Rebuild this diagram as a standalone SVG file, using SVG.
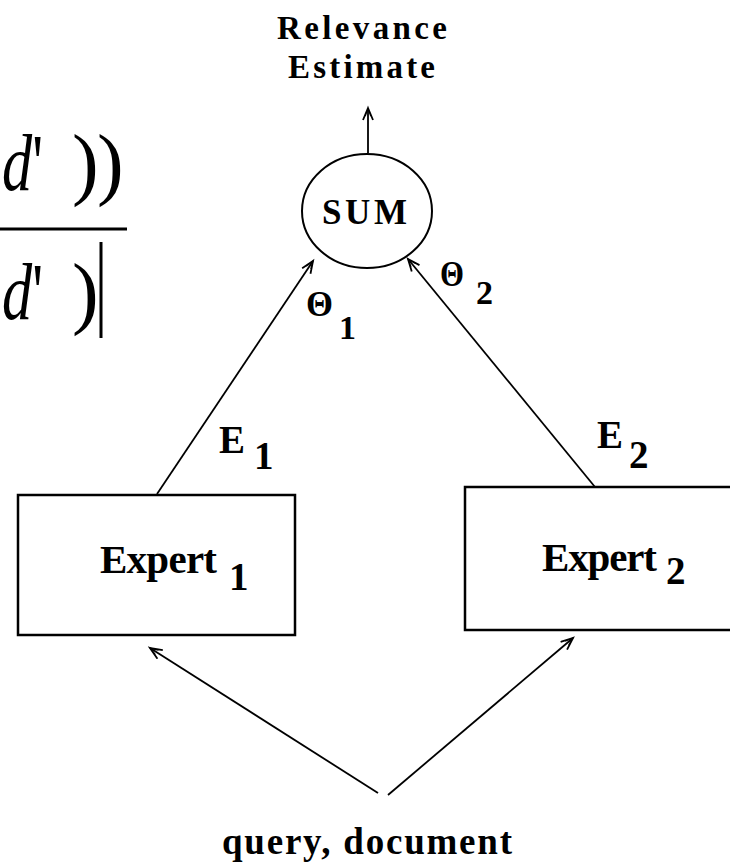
<svg xmlns="http://www.w3.org/2000/svg" width="730" height="862" viewBox="0 0 730 862">
<defs>
<style>
.lbl{font-family:"Liberation Serif",serif;font-weight:bold;fill:#000}
.box{fill:#fff;stroke:#000;stroke-width:2.5}
.con{stroke:#000;stroke-width:1.8;fill:none}
.math{font-family:"Liberation Serif",serif;fill:#000;font-size:80px}
</style>
<marker id="arr" markerUnits="userSpaceOnUse" markerWidth="20" markerHeight="20" refX="14" refY="6" orient="auto">
<path d="M2,1 L14,6 L2,11 M6,3 L14,6 L6,9" stroke="#000" stroke-width="1.8" fill="none"/>
</marker>
</defs>
<rect width="730" height="862" fill="#fff"/>

<g id="formula-fragment">
<text class="math" x="2" y="190" textLength="41" lengthAdjust="spacingAndGlyphs"><tspan font-style="italic">d</tspan>'</text>
<text class="math" x="72" y="190">)</text>
<text class="math" x="97" y="190">)</text>
<line x1="0" y1="229" x2="127" y2="229" stroke="#000" stroke-width="3"/>
<text class="math" x="2" y="319" textLength="41" lengthAdjust="spacingAndGlyphs"><tspan font-style="italic">d</tspan>'</text>
<text class="math" x="72" y="319">)</text>
<line x1="101" y1="242" x2="101" y2="338" stroke="#000" stroke-width="3"/>
</g>

<g id="connectors">
<line class="con" x1="368" y1="153" x2="368" y2="108" marker-end="url(#arr)"/>
<line class="con" x1="157" y1="494" x2="313" y2="261" marker-end="url(#arr)"/>
<line class="con" x1="595" y1="487" x2="408" y2="259" marker-end="url(#arr)"/>
<line class="con" x1="378" y1="793" x2="150" y2="648" marker-end="url(#arr)"/>
<line class="con" x1="388" y1="795" x2="573" y2="638" marker-end="url(#arr)"/>
</g>

<g id="relevance-estimate">
<text class="lbl" font-size="33" x="277" y="39" textLength="170" lengthAdjust="spacing">Relevance</text>
<text class="lbl" font-size="33" x="288" y="78" textLength="147" lengthAdjust="spacing">Estimate</text>
</g>

<g id="sum">
<ellipse cx="367" cy="211" rx="65" ry="57" fill="#fff" stroke="#000" stroke-width="2"/>
<text class="lbl" font-size="35" x="322" y="224" textLength="85" lengthAdjust="spacing">SUM</text>
</g>

<g id="expert1">
<rect class="box" x="18" y="495" width="277" height="140"/>
<text class="lbl" font-size="41" x="100" y="573" textLength="117" lengthAdjust="spacing">Expert</text>
<text class="lbl" font-size="39" x="229" y="590">1</text>
</g>

<g id="expert2">
<rect class="box" x="465" y="487" width="275" height="143"/>
<text class="lbl" font-size="41" x="542" y="571" textLength="115" lengthAdjust="spacing">Expert</text>
<text class="lbl" font-size="39" x="666" y="584">2</text>
</g>

<g id="labels">
<text class="lbl" font-size="36" x="306" y="316" textLength="27" lengthAdjust="spacingAndGlyphs">Θ</text>
<text class="lbl" font-size="34" x="339" y="339">1</text>
<text class="lbl" font-size="36" x="440" y="286" textLength="24" lengthAdjust="spacingAndGlyphs">Θ</text>
<text class="lbl" font-size="34" x="476" y="304">2</text>
<text class="lbl" font-size="39" x="219" y="453">E</text>
<text class="lbl" font-size="39" x="254" y="469">1</text>
<text class="lbl" font-size="39" x="597" y="448">E</text>
<text class="lbl" font-size="39" x="629" y="468">2</text>
</g>

<g id="query-document">
<text class="lbl" font-size="37" x="222" y="854" textLength="290" lengthAdjust="spacing">query, document</text>
</g>
</svg>
